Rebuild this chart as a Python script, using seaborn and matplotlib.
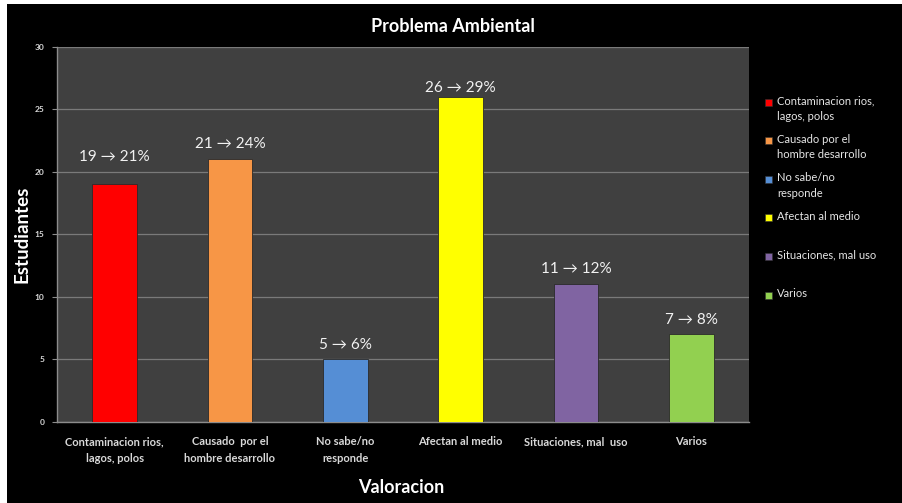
import matplotlib
matplotlib.use("Agg")
import matplotlib.pyplot as plt
import matplotlib.patches as mpatches
import seaborn as sns
import pandas as pd

# =====================================================
# Data
# =====================================================

categories = [
    "Contaminacion rios,\nlagos, polos",
    "Causado  por el\nhombre desarrollo",
    "No sabe/no\nresponde",
    "Afectan al medio",
    "Situaciones, mal  uso",
    "Varios",
]

legend_labels = [
    "Contaminacion rios,\nlagos, polos",
    "Causado por el\nhombre desarrollo",
    "No sabe/no\nresponde",
    "Afectan al medio",
    "Situaciones, mal uso",
    "Varios",
]

students = [19, 21, 5, 26, 11, 7]
percents = [21, 24, 6, 29, 12, 8]

colors = ["#ff0000", "#f79646", "#558ed5", "#ffff00", "#8064a2", "#92d050"]

# label offsets above the bars (pixels), as placed in the original
label_pad = [27, 15, 14, 9, 15, 14]

df = pd.DataFrame({"Valoracion": categories, "Estudiantes": students})

# =====================================================
# Style
# =====================================================

sns.set_theme(style="dark")
plt.rcParams["font.family"] = ["Lato", "DejaVu Sans"]

W, H = 902, 503
fig = plt.figure(figsize=(W / 100, H / 100), dpi=100, facecolor="black")

# thin white margin on top and left, as in the original screenshot
fig.patches.append(mpatches.Rectangle(
    (0, (H - 4) / H), 1, 4 / H,
    transform=fig.transFigure, facecolor="white", edgecolor="none", zorder=-1
))
fig.patches.append(mpatches.Rectangle(
    (0, 0), 7 / W, 1,
    transform=fig.transFigure, facecolor="white", edgecolor="none", zorder=-1
))

left, right, top, bottom = 57, 749, 46.7, 422
ax = fig.add_axes([left / W, 1 - bottom / H, (right - left) / W, (bottom - top) / H])
ax.set_facecolor("#404040")

# =====================================================
# Bars
# =====================================================

sns.barplot(
    data=df,
    x="Valoracion",
    y="Estudiantes",
    hue="Valoracion",
    palette=colors,
    dodge=False,
    width=0.39,
    legend=False,
    saturation=1,
    edgecolor="#2a2a2a",
    linewidth=0.6,
    ax=ax,
    zorder=3,
)

for i, bar in enumerate(ax.patches):
    ax.annotate(
        f"{students[i]} \u2192 {percents[i]}%",
        xy=(bar.get_x() + bar.get_width() / 2, bar.get_height()),
        xytext=(0, label_pad[i]),
        textcoords="offset pixels",
        ha="center", va="center",
        color="#f2f2f2", fontsize=11,
        family=["Lato", "DejaVu Sans"],
    )

# =====================================================
# Axes
# =====================================================

ax.set_ylim(0, 30)
yticks = list(range(0, 31, 5))
ax.set_yticks(yticks, [str(v) for v in yticks], fontweight="bold")
ax.set_xticks(range(len(categories)), categories, fontweight="bold",
              linespacing=1.65)
ax.set_xlim(-0.5, 5.5)
ax.grid(axis="y", color="#7a7a7a", linewidth=0.9, zorder=0)
ax.grid(axis="x", visible=False)
ax.set_axisbelow(True)

for side in ["top", "right"]:
    ax.spines[side].set_visible(False)
for side in ["left", "bottom"]:
    ax.spines[side].set_color("#8c8c8c")
    ax.spines[side].set_linewidth(1.0)

ax.tick_params(axis="y", colors="#d9d9d9", labelsize=6, length=3.6,
               width=0.8, direction="out", left=True, pad=5.5)
ax.tick_params(axis="y", color="#8c8c8c")
ax.tick_params(axis="x", colors="#d9d9d9", labelsize=8, length=0, pad=10)

ax.set_ylabel("Estudiantes", color="white", fontsize=13.5, fontweight="bold")
ax.yaxis.set_label_coords(-0.038, 0.5)
ax.set_xlabel("Valoracion", color="white", fontsize=13, fontweight="bold")
ax.xaxis.set_label_coords(0.497, -0.152)

fig.text(0.502, 1 - 27 / H, "Problema Ambiental", ha="center", va="center",
         color="white", fontsize=13, fontweight="bold")

# =====================================================
# Legend (drawn by hand to match the original spacing)
# =====================================================

y0, step = 102, 38.6
for i, label in enumerate(legend_labels):
    y = y0 + i * step
    fig.patches.append(mpatches.Rectangle(
        (765 / W, 1 - (y + 3.5) / H), 7 / W, 7 / H,
        transform=fig.transFigure, facecolor=colors[i],
        edgecolor="#333333", linewidth=0.4, zorder=2
    ))
    fig.text(777 / W, 1 - (y - 7) / H, label, ha="left", va="top",
             color="#e6e6e6", fontsize=8, linespacing=1.5)

plt.savefig("out.png", dpi=100, facecolor=fig.get_facecolor())
plt.close()
